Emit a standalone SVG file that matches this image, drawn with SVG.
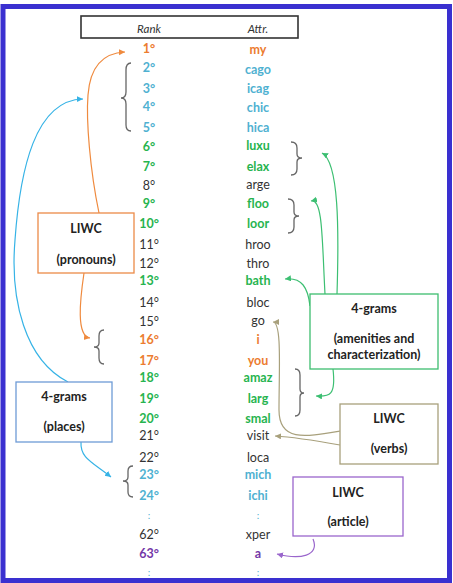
<svg xmlns="http://www.w3.org/2000/svg" width="453" height="583" viewBox="0 0 453 583">
<style>
text{font-family:Lato,"Liberation Sans",sans-serif;font-size:12.5px;text-anchor:middle}
.b{font-weight:bold}
.or{fill:#ec7c30}.bl{fill:#4fb1d1}.gr{fill:#27b44f}.dk{fill:#333}.pu{fill:#7438a8}
.hd{font-style:italic;fill:#333;font-size:11.5px}
.lbl{font-weight:bold;fill:#222;font-size:12.5px}
.br{fill:none;stroke:#666;stroke-width:1.3}
.c{fill:none;stroke-width:1.2}
.dt{font-size:10px}
</style>
<defs>
<marker id="aO" markerWidth="8" markerHeight="8" refX="6" refY="3" orient="auto" markerUnits="userSpaceOnUse"><path d="M0,0 L6,3 L0,6 z" fill="#ef8a3e"/></marker>
<marker id="aB" markerWidth="8" markerHeight="8" refX="6" refY="3" orient="auto" markerUnits="userSpaceOnUse"><path d="M0,0 L6,3 L0,6 z" fill="#36b3e6"/></marker>
<marker id="aG" markerWidth="8" markerHeight="8" refX="6" refY="3" orient="auto" markerUnits="userSpaceOnUse"><path d="M0,0 L6,3 L0,6 z" fill="#3cbf72"/></marker>
<marker id="aT" markerWidth="8" markerHeight="8" refX="6" refY="3" orient="auto" markerUnits="userSpaceOnUse"><path d="M0,0 L6,3 L0,6 z" fill="#a8a07c"/></marker>
<marker id="aP" markerWidth="8" markerHeight="8" refX="6" refY="3" orient="auto" markerUnits="userSpaceOnUse"><path d="M0,0 L6,3 L0,6 z" fill="#9a66cc"/></marker>
</defs>
<rect x="0" y="0" width="453" height="583" fill="#fff"/>
<rect x="3" y="6.5" width="446.5" height="574" fill="none" stroke="#3a30d0" stroke-width="5"/>

<g id="header">
<rect x="81" y="16" width="217" height="22" fill="#fff" stroke="#333" stroke-width="1.6"/>
<text class="hd" x="149" y="33">Rank</text>
<text class="hd" x="258" y="33">Attr.</text>
</g>

<g id="rows">
<text class="b or" x="149" y="53">1°</text><text class="b or" x="258" y="54">my</text>
<text class="b bl" x="149" y="72">2°</text><text class="b bl" x="258" y="74">cago</text>
<text class="b bl" x="149" y="93">3°</text><text class="b bl" x="258" y="93">icag</text>
<text class="b bl" x="149" y="111">4°</text><text class="b bl" x="258" y="112">chic</text>
<text class="b bl" x="149" y="132">5°</text><text class="b bl" x="258" y="132">hica</text>
<text class="b gr" x="149" y="151">6°</text><text class="b gr" x="258" y="150">luxu</text>
<text class="b gr" x="149" y="171">7°</text><text class="b gr" x="258" y="171">elax</text>
<text class="dk" x="149" y="190">8°</text><text class="dk" x="258" y="189">arge</text>
<text class="b gr" x="149" y="208">9°</text><text class="b gr" x="258" y="208">floo</text>
<text class="b gr" x="149" y="228">10°</text><text class="b gr" x="258" y="228">loor</text>
<text class="dk" x="149" y="249">11°</text><text class="dk" x="258" y="249">hroo</text>
<text class="dk" x="149" y="268">12°</text><text class="dk" x="258" y="268">thro</text>
<text class="b gr" x="149" y="285">13°</text><text class="b gr" x="258" y="285">bath</text>
<text class="dk" x="149" y="307">14°</text><text class="dk" x="258" y="307">bloc</text>
<text class="dk" x="149" y="326">15°</text><text class="dk" x="258" y="325">go</text>
<text class="b or" x="149" y="344">16°</text><text class="b or" x="258" y="344">i</text>
<text class="b or" x="149" y="365">17°</text><text class="b or" x="258" y="365">you</text>
<text class="b gr" x="149" y="382">18°</text><text class="b gr" x="258" y="382">amaz</text>
<text class="b gr" x="149" y="403">19°</text><text class="b gr" x="258" y="403">larg</text>
<text class="b gr" x="149" y="423">20°</text><text class="b gr" x="258" y="423">smal</text>
<text class="dk" x="149" y="440">21°</text><text class="dk" x="258" y="440">visit</text>
<text class="dk" x="149" y="462">22°</text><text class="dk" x="258" y="462">loca</text>
<text class="b bl" x="149" y="479">23°</text><text class="b bl" x="258" y="479">mich</text>
<text class="b bl" x="149" y="500">24°</text><text class="b bl" x="258" y="500">ichi</text>
<text class="bl dt" x="149" y="519">:</text><text class="bl dt" x="258" y="519">:</text>
<text class="dk" x="149" y="539">62°</text><text class="dk" x="258" y="539">xper</text>
<text class="b pu" x="149" y="558">63°</text><text class="b pu" x="258" y="558">a</text>
<text class="bl dt" x="149" y="576">:</text><text class="bl dt" x="258" y="576">:</text>
</g>

<g id="braces">
<path class="br" d="M131,63 Q126,63 126,70 L126,92 Q126,98 121,98 Q126,98 126,104 L126,125 Q126,131 131,131"/>
<path class="br" d="M291,142 Q297,142 297,148 L297,154 Q297,158 302,158 Q297,158 297,162 L297,169 Q297,175 291,175"/>
<path class="br" d="M288,199 Q294,199 294,205 L294,212 Q294,216 299,216 Q294,216 294,220 L294,227 Q294,233 288,233"/>
<path class="br" d="M104,330 Q99,330 99,336 L99,343 Q99,347 94,347 Q99,347 99,351 L99,358 Q99,364 104,364"/>
<path class="br" d="M295,369 Q300,369 300,375 L300,389 Q300,393 304,393 Q300,393 300,397 L300,410 Q300,416 295,416"/>
<path class="br" d="M133,466 Q128,466 128,471 L128,477 Q128,481 123,481 Q128,481 128,485 L128,492 Q128,497 133,497"/>
</g>

<g id="connectors">
<path class="c" stroke="#ef8a3e" marker-end="url(#aO)" d="M99,213 C90,170 86,120 88,95 C90,68 102,53 125,52"/>
<path class="c" stroke="#ef8a3e" marker-end="url(#aO)" d="M84,273 C80,300 76,336 90,338"/>
<path class="c" stroke="#36b3e6" marker-end="url(#aB)" d="M68,382 C25,360 10,300 15,240 C20,170 35,100 83,99"/>
<path class="c" stroke="#36b3e6" marker-end="url(#aB)" d="M81,442 C80,458 92,462 111,477"/>
<path class="c" stroke="#3cbf72" marker-end="url(#aG)" d="M337,294 C339,230 339,162 322,153"/>
<path class="c" stroke="#3cbf72" marker-end="url(#aG)" d="M325,294 C322,240 323,198 311,201"/>
<path class="c" stroke="#3cbf72" marker-end="url(#aG)" d="M310,306 C308,288 302,277 285,279"/>
<path class="c" stroke="#3cbf72" marker-end="url(#aG)" d="M333,369 C336,395 330,397 316,396"/>
<path class="c" stroke="#a8a07c" marker-end="url(#aT)" d="M340,431 C305,437 279,442 279,410 C279,370 282,322 273,322"/>
<path class="c" stroke="#a8a07c" marker-end="url(#aT)" d="M340,445 C312,440 292,437 275,436"/>
<path class="c" stroke="#9a66cc" marker-end="url(#aP)" d="M313,539 C320,556 300,560 277,554"/>
</g>

<g id="liwc-pronouns">
<rect x="38" y="213" width="96" height="60" fill="#fff" stroke="#ec8a48" stroke-width="1.3"/>
<text class="lbl" x="86" y="233">LIWC</text>
<text class="lbl" x="86" y="264">(pronouns)</text>
</g>
<g id="ngrams-places">
<rect x="16" y="382" width="96" height="60" fill="#fff" stroke="#6e9bd6" stroke-width="1.3"/>
<text class="lbl" x="64" y="401">4-grams</text>
<text class="lbl" x="64" y="431">(places)</text>
</g>
<g id="ngrams-amenities">
<rect x="310" y="294" width="128" height="75" fill="#fff" stroke="#3dbd6f" stroke-width="1.3"/>
<text class="lbl" x="374" y="313">4-grams</text>
<text class="lbl" x="374" y="343">(amenities and</text>
<text class="lbl" x="374" y="359">characterization)</text>
</g>
<g id="liwc-verbs">
<rect x="340" y="404" width="98" height="60" fill="#fff" stroke="#a8a07c" stroke-width="1.3"/>
<text class="lbl" x="389" y="423">LIWC</text>
<text class="lbl" x="389" y="453">(verbs)</text>
</g>
<g id="liwc-article">
<rect x="293" y="477" width="110" height="59" fill="#fff" stroke="#9a66cc" stroke-width="1.3"/>
<text class="lbl" x="348" y="497">LIWC</text>
<text class="lbl" x="348" y="526">(article)</text>
</g>
</svg>
